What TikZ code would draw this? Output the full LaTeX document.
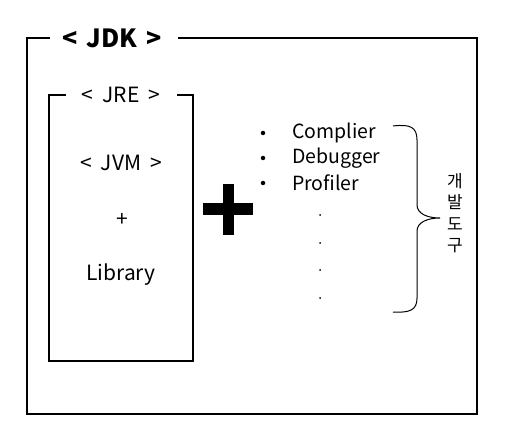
\documentclass[tikz,border=0pt]{standalone}
\usepackage{fontspec}
\setmainfont{Noto Sans CJK KR}
\begin{document}
\begin{tikzpicture}[x=1pt,y=-1pt,
  frame/.style={line width=2.3pt},
  lbl/.style={inner sep=0pt,anchor=center},
  mid/.style={lbl,font=\fontsize{21}{24}\selectfont},
  item/.style={inner sep=0pt,anchor=west,font=\fontsize{19.5}{22}\selectfont},
  bul/.style={circle,fill=black,inner sep=0pt,minimum size=4.5pt},
  vdot/.style={circle,fill=black,inner sep=0pt,minimum size=2pt}]
\useasboundingbox (0,0) rectangle (508,446);
% JDK frame
\node[lbl,font=\bfseries\fontsize{25}{28}\selectfont] (jdk) at (112,38) {<\hspace{9pt}JDK\hspace{9pt}>};
\draw[frame] (50,38) -- (27,38) -- (27,414) -- (477,414) -- (477,38) -- (178,38);
% JRE frame
\node[mid] (jre) at (121,95) {<\hspace{9pt}JRE\hspace{9pt}>};
\draw[frame] (66,95) -- (49,95) -- (49,361) -- (193,361) -- (193,95) -- (177,95);
\node[mid] (jvm) at (121,163) {<\hspace{9pt}JVM\hspace{9pt}>};
\node[mid] (plus) at (122,220) {+};
\node[mid] (lib) at (121,275) {Library};
% big plus
\fill (203,203) rectangle (253,215);
\fill (223,184) rectangle (234,235);
% tools
\node[bul] (b1) at (263,133) {};
\node[bul] (b2) at (263,158) {};
\node[bul] (b3) at (263,183) {};
\node[item] (t1) at (292,133) {Complier};
\node[item] (t2) at (292,158) {Debugger};
\node[item] (t3) at (292,183) {Profiler};
\node[vdot] (d1) at (320,215) {};
\node[vdot] (d2) at (320,243) {};
\node[vdot] (d3) at (320,270) {};
\node[vdot] (d4) at (320,298) {};
% brace
\draw[line width=1pt] (393,126) .. controls (410,124) and (417,127) .. (417,140)
  -- (417,205) .. controls (417,214) and (428,218) .. (440,218)
  .. controls (428,218) and (417,222) .. (417,231)
  -- (417,298) .. controls (417,310) and (410,313) .. (393,312);
\node[lbl,font=\fontsize{17}{21.5}\selectfont,align=center] (kor) at (455,213) {개\\발\\도\\구};
\end{tikzpicture}
\end{document}
